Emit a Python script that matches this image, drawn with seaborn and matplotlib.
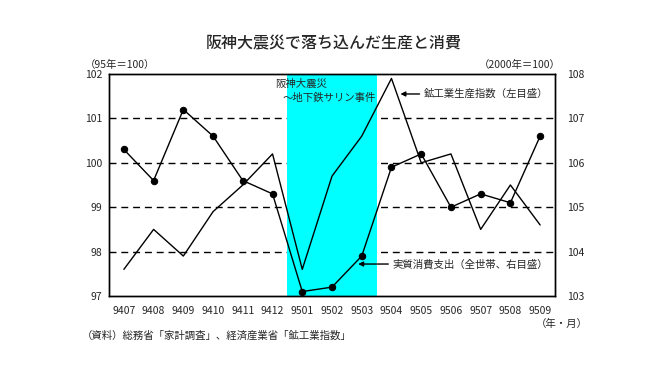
import numpy as np
import pandas as pd
import seaborn as sns
import matplotlib.pyplot as plt

# ==========================================
# データ
# ==========================================
months = ['9407', '9408', '9409', '9410', '9411', '9412',
          '9501', '9502', '9503', '9504', '9505', '9506', '9507', '9508', '9509']
# 鉱工業生産指数 (95年=100, 左目盛)
mining = [97.6, 98.5, 97.9, 98.9, 99.5, 100.2,
          97.6, 99.7, 100.6, 101.9, 100.0, 100.2, 98.5, 99.5, 98.6]
# 実質消費支出 (2000年=100, 右目盛)
consumption = [106.3, 105.6, 107.2, 106.6, 105.6, 105.3,
               103.1, 103.2, 103.9, 105.9, 106.2, 105.0, 105.3, 105.1, 106.6]
left_ticks = [97, 98, 99, 100, 101, 102]
right_ticks = [103, 104, 105, 106, 107, 108]
quake_span = ('9501', '9503')

df = pd.DataFrame({'idx': np.arange(len(months)), 'month': months,
                   'mining': mining, 'consumption': consumption})

# ==========================================
# 描画
# ==========================================
sns.set_style('white')
plt.rcParams['font.family'] = ['Noto Sans CJK JP', 'DejaVu Sans']

fig = plt.figure(figsize=(6.68, 3.76), dpi=100)
ax = fig.add_axes([109 / 668, 80 / 376, 446 / 668, 222 / 376])
ax2 = ax.twinx()

# 破線グリッド
for v in left_ticks[1:-1]:
    ax.axhline(v, color='black', lw=1, ls=(0, (5, 3.5)), zorder=0.5)

# 網掛け (阪神大震災～地下鉄サリン事件)
i0, i1 = months.index(quake_span[0]), months.index(quake_span[1])
ax.axvspan(i0 - 0.5, i1 + 0.5, color='#00FFFF', zorder=1, lw=0)

sns.lineplot(data=df, x='idx', y='mining', ax=ax, color='black', lw=1, zorder=3)
sns.lineplot(data=df, x='idx', y='consumption', ax=ax2, color='black', lw=1,
             marker='o', markersize=4.6, markeredgecolor='black', zorder=3)

ax.set_xlim(-0.5, len(months) - 0.5)
ax.set_ylim(97, 102)
ax2.set_ylim(103, 108)
ax.set_yticks(left_ticks)
ax2.set_yticks(right_ticks)
ax.set_xticks(df['idx'])
ax.set_xticklabels(months)
ax.set_xticks(np.arange(0.5, len(months) - 1, 1), minor=True)
ax.tick_params(axis='x', which='major', length=0, pad=7, labelsize=7.5)
ax.tick_params(axis='x', which='minor', direction='in', length=4, width=1, color='black')
ax.tick_params(axis='y', length=0, pad=5, labelsize=7.5)
ax2.tick_params(axis='y', length=0, pad=9, labelsize=7.5)
for a in (ax, ax2):
    a.set_xlabel('')
    a.set_ylabel('')
    a.grid(False)
    for s in a.spines.values():
        s.set_color('black')
        s.set_linewidth(1)
        s.set_visible(True)
    a.set_facecolor('none')

# 注記
ax.text(5.08, 101.78, '阪神大震災', fontsize=7.5, va='center', ha='left', zorder=5)
ax.text(5.35, 101.46, '～地下鉄サリン事件', fontsize=7.5, va='center', ha='left', zorder=5)
ax.annotate('鉱工業生産指数（左目盛）', xy=(9.3, 101.55), xytext=(10.1, 101.55),
            fontsize=7.5, va='center', ha='left',
            arrowprops=dict(arrowstyle='-|>', color='black', lw=1, mutation_scale=7,
                            shrinkA=1, shrinkB=0))
ax2.annotate('実質消費支出（全世帯、右目盛）', xy=(7.88, 103.72), xytext=(9.05, 103.72),
             fontsize=7.5, va='center', ha='left',
             arrowprops=dict(arrowstyle='-|>', color='black', lw=1, mutation_scale=7,
                             shrinkA=1, shrinkB=0))

fig.text(0.5, 1 - 44 / 376, '阪神大震災で落ち込んだ生産と消費', fontsize=11.5,
         ha='center', va='center', fontweight='medium')
fig.text(85 / 668, 1 - 65 / 376, '（95年＝100）', fontsize=7.5, ha='left', va='center')
fig.text(561 / 668, 1 - 65 / 376, '（2000年＝100）', fontsize=7.5, ha='right', va='center')
fig.text(588 / 668, 1 - 324 / 376, '（年・月）', fontsize=7.5, ha='right', va='center')
fig.text(82 / 668, 1 - 336 / 376, '（資料）総務省「家計調査」、経済産業省「鉱工業指数」',
         fontsize=7.5, ha='left', va='center')

fig.savefig('out.png', dpi=100, facecolor='white')
